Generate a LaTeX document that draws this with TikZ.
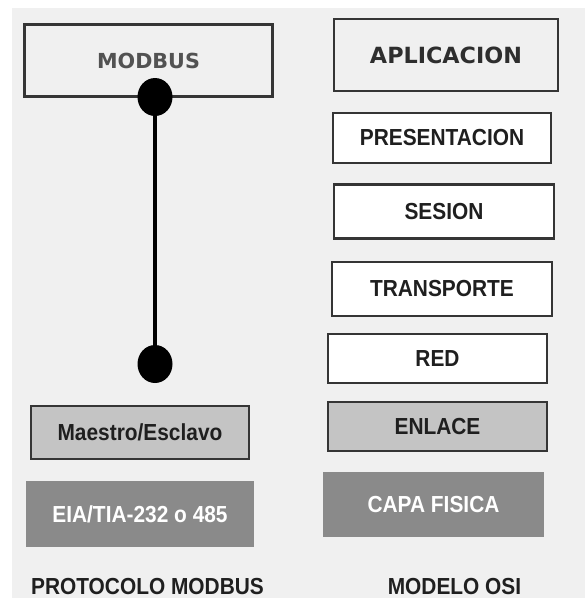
\documentclass[tikz,border=0pt]{standalone}
\usepackage{fontspec}
\usetikzlibrary{shapes.geometric}
\setmainfont{Liberation Sans}
\newfontfamily\wideface{DejaVu Sans}
\newfontfamily\labelface[FakeStretch=0.9]{Liberation Sans}
\definecolor{pagegray}{HTML}{F0F0F0}
\definecolor{framegray}{HTML}{353535}
\definecolor{softfill}{HTML}{C4C4C4}
\definecolor{darkfill}{HTML}{8A8A8A}
\newcommand{\labelsize}{\fontsize{23.2}{24}\selectfont}
\begin{document}
\begin{tikzpicture}[x=1pt,y=-1pt,
  layer/.style={draw=framegray,line width=2.5pt,fill=white,inner sep=0pt,
    text=black!88,font=\labelface\bfseries\labelsize},
  toplayer/.style={layer,fill=pagegray},
  midlayer/.style={layer,fill=softfill},
  baselayer/.style={layer,draw=none,fill=darkfill,text=white},
  caption/.style={anchor=base,inner sep=0pt,font=\labelface\bfseries\labelsize,text=black!88},
  joint/.style={ellipse,fill=black,minimum width=35pt,minimum height=38pt,inner sep=0pt}]
  \useasboundingbox (0,0) rectangle (585,598);
  \fill[white] (0,0) rectangle (585,598);
  \fill[pagegray] (12,8) rectangle (585,598);

  % protocol stack, left column
  \node[toplayer,minimum width=248pt,minimum height=72pt,text=black!68,
    font=\wideface\bfseries\fontsize{20.7}{22}\selectfont] (modbus) at (148.5,60.5) {MODBUS};
  \node[midlayer,minimum width=218pt,minimum height=53pt] (maestro) at (140,432.5) {Maestro/Esclavo};
  \node[baselayer,minimum width=228pt,minimum height=66pt] (eia) at (140,514) {EIA/TIA-232 o 485};
  \node[caption] (protocolo) at (147.5,594) {PROTOCOLO MODBUS};

  % link between the application layer and the lower layers
  \node[joint] (jtop) at (155,97) {};
  \node[joint] (jbot) at (155,364) {};
  \draw[line width=4pt] (jtop.south) -- (jbot.north);

  % OSI model, right column
  \node[toplayer,minimum width=224pt,minimum height=72pt,text=black!82,
    font=\wideface\bfseries\fontsize{22.3}{24}\selectfont] (aplicacion) at (446,55) {APLICACION};
  \node[layer,minimum width=218pt,minimum height=50pt] (presentacion) at (442,138) {PRESENTACION};
  \node[layer,minimum width=220pt,minimum height=54pt] (sesion) at (444,211.5) {SESION};
  \node[layer,minimum width=220pt,minimum height=54pt] (transporte) at (442,289) {TRANSPORTE};
  \node[layer,minimum width=219pt,minimum height=49pt] (red) at (437.5,358.5) {RED};
  \node[midlayer,minimum width=219pt,minimum height=49pt] (enlace) at (437.5,426.5) {ENLACE};
  \node[baselayer,minimum width=221pt,minimum height=65pt] (fisica) at (433.5,504.5) {CAPA FISICA};
  \node[caption] (osi) at (454.5,594) {MODELO OSI};
\end{tikzpicture}
\end{document}
